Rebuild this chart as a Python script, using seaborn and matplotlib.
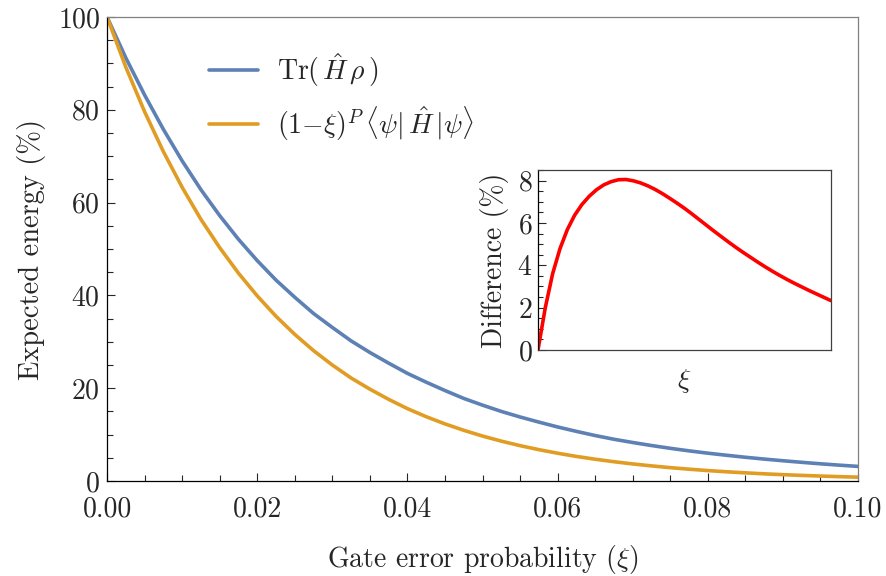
import numpy as np
import pandas as pd
import matplotlib
matplotlib.use('Agg')
import matplotlib.pyplot as plt
from matplotlib.ticker import MultipleLocator
import seaborn as sns

# gate error probability grid (xi), step 0.0025
xi = np.linspace(0, 0.1, 41)

# Tr(H rho), in percent
tr_h_rho = [100.0, 91.2, 83.2, 75.8, 69.0, 62.8, 57.2, 52.1, 47.5, 43.3,
            39.6, 36.1, 33.1, 30.2, 27.7, 25.4, 23.2, 21.3, 19.5, 17.8,
            16.35, 15.0, 13.8, 12.7, 11.65, 10.7, 9.8, 9.0, 8.3, 7.65,
            7.05, 6.5, 6.0, 5.55, 5.12, 4.73, 4.37, 4.03, 3.71, 3.42, 3.15]

# (1-xi)^P <psi|H|psi>, in percent
pure_scaled = [100.0, 89.2, 79.6, 71.0, 63.3, 56.4, 50.3, 44.8, 39.9, 35.5,
               31.6, 28.1, 25.0, 22.2, 19.8, 17.6, 15.6, 13.86, 12.31, 10.93,
               9.69, 8.60, 7.62, 6.76, 5.99, 5.30, 4.70, 4.16, 3.68, 3.26,
               2.88, 2.55, 2.25, 1.99, 1.76, 1.55, 1.37, 1.21, 1.07, 0.94, 0.83]

# inset: difference between the two, in percent
difference = [0.0, 2.0, 3.6, 4.78, 5.68, 6.36, 6.87, 7.26, 7.57, 7.80,
              7.95, 8.04, 8.05, 7.99, 7.89, 7.75, 7.58, 7.38, 7.16, 6.93,
              6.69, 6.43, 6.16, 5.89, 5.62, 5.36, 5.10, 4.85, 4.61, 4.38,
              4.15, 3.93, 3.72, 3.52, 3.33, 3.15, 2.98, 2.81, 2.65, 2.49, 2.33]

labels = [r'$\mathrm{Tr}(\,\hat{H}\,\rho\,)$',
          r'$(1{-}\xi)^{P}\,\langle\psi|\,\hat{H}\,|\psi\rangle$']
colors = ['#5E81B5', '#E19C24']

sns.set_style('ticks')
plt.rcParams['font.family'] = 'serif'
plt.rcParams['font.serif'] = ['cmr10', 'DejaVu Serif']
plt.rcParams['mathtext.fontset'] = 'cm'
plt.rcParams['axes.formatter.use_mathtext'] = True
plt.rcParams['axes.unicode_minus'] = False

df = pd.DataFrame({'xi': np.concatenate([xi, xi]),
                   'value': tr_h_rho + pure_scaled,
                   'series': [labels[0]] * len(xi) + [labels[1]] * len(xi)})

fig = plt.figure(figsize=(8.86, 5.76), dpi=100)
ax = fig.add_axes([0.1208, 0.1649, 0.8476, 0.8056])

sns.lineplot(data=df, x='xi', y='value', hue='series', palette=colors,
             linewidth=2.6, ax=ax)

ax.set_xlim(0, 0.1)
ax.set_ylim(0, 100)
ax.xaxis.set_major_locator(MultipleLocator(0.02))
ax.xaxis.set_minor_locator(MultipleLocator(0.005))
ax.yaxis.set_major_locator(MultipleLocator(20))
ax.yaxis.set_minor_locator(MultipleLocator(5))
ax.xaxis.set_major_formatter(plt.FormatStrFormatter('%.2f'))
ax.tick_params(which='both', direction='in', top=False, right=False,
               labelsize=20, width=0.8)
ax.tick_params(axis='x', which='both', pad=11)
ax.tick_params(axis='y', which='both', pad=5)
ax.tick_params(which='major', length=6)
ax.tick_params(which='minor', length=4)
for s in ['top', 'right']:
    ax.spines[s].set_color('#808080')
for s in ['left', 'bottom']:
    ax.spines[s].set_color('black')
for s in ax.spines.values():
    s.set_linewidth(0.9)

ax.set_xlabel(r'Gate error probability ($\xi$)', fontsize=20, labelpad=15)
ax.set_ylabel('Expected energy (%)', fontsize=20.5, labelpad=8)

ax.legend(loc='upper left', bbox_to_anchor=(0.208, 0.955),
          bbox_transform=fig.transFigure, frameon=False, fontsize=20,
          handlelength=1.75, handletextpad=0.7, labelspacing=0.55)

# inset
ins = fig.add_axes([0.6072, 0.3924, 0.3307, 0.3125])
sns.lineplot(x=xi, y=difference, color='#FF0000', linewidth=2.6, ax=ins)
ins.set_xlim(0, 0.1)
ins.set_ylim(0, 8.5)
ins.set_xticks([])
ins.yaxis.set_major_locator(MultipleLocator(2))
ins.yaxis.set_minor_locator(MultipleLocator(0.5))
ins.tick_params(axis='y', which='both', direction='in', labelsize=20,
                width=0.8, pad=4)
ins.tick_params(axis='y', which='major', length=6)
ins.tick_params(axis='y', which='minor', length=3.5)
for s in ins.spines.values():
    s.set_color('#404040')
    s.set_linewidth(0.9)
ins.spines['left'].set_color('black')
ins.set_xlabel(r'$\xi$', fontsize=20, labelpad=12)
ins.set_ylabel('Difference (%)', fontsize=20, labelpad=6)

fig.savefig('out.png', dpi=100)
